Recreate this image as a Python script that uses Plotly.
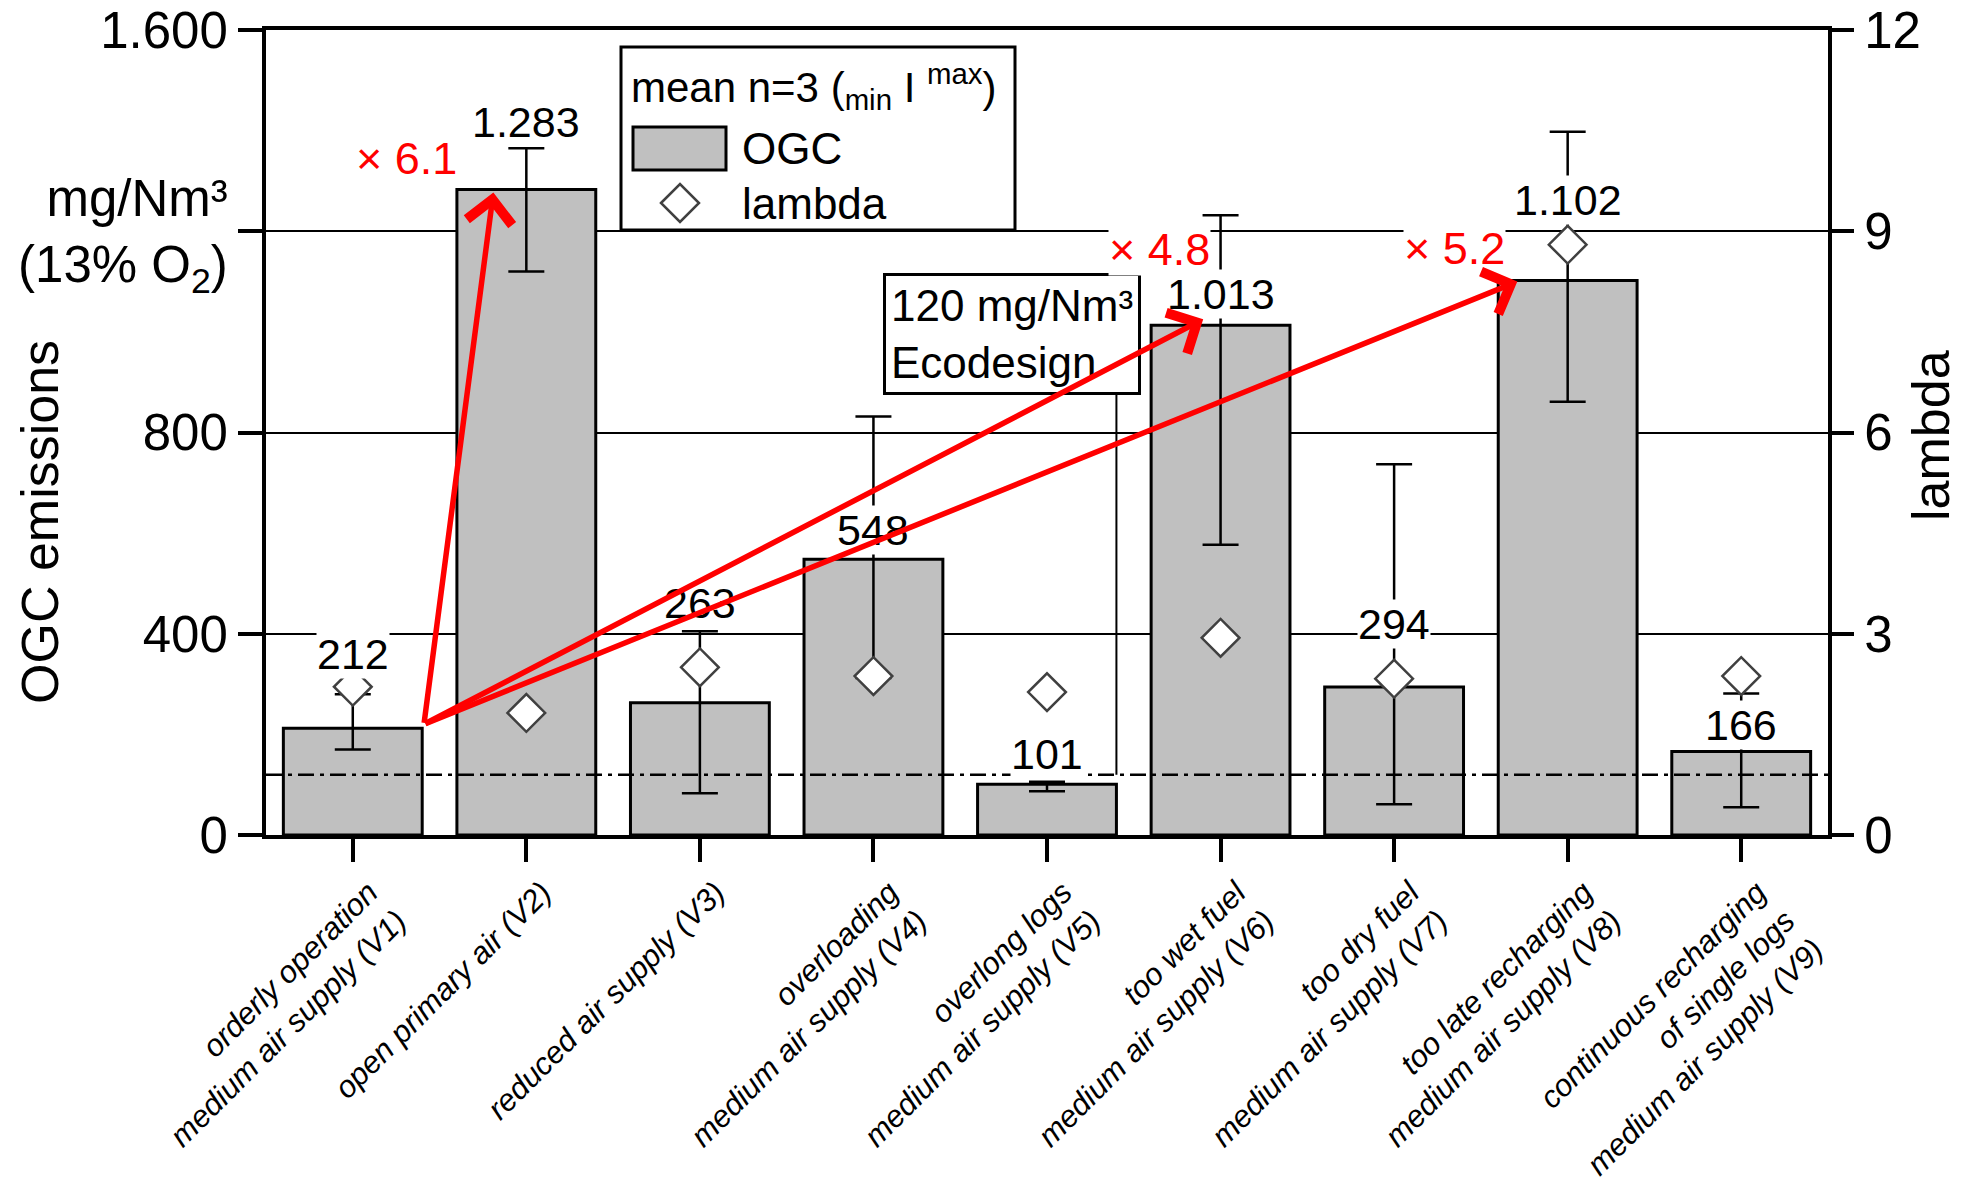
import plotly.graph_objects as go

# ---------------- data ----------------
categories = ["V1", "V2", "V3", "V4", "V5", "V6", "V7", "V8", "V9"]
tick_labels = [
    "orderly operation<br>medium air supply (V1)",
    "open primary air (V2)",
    "reduced air supply (V3)",
    "overloading<br>medium air supply (V4)",
    "overlong logs<br>medium air supply (V5)",
    "too wet fuel<br>medium air supply (V6)",
    "too dry fuel<br>medium air supply (V7)",
    "too late recharging<br>medium air supply (V8)",
    "continuous recharging<br>of single logs<br>medium air supply (V9)",
]
ogc_mean = [212, 1283, 263, 548, 101, 1013, 294, 1102, 166]
ogc_max = [280, 1365, 405, 832, 106, 1232, 737, 1398, 281]
ogc_min = [170, 1120, 83, 312, 87, 577, 61, 861, 55]
lambda_mean = [2.21, 1.82, 2.50, 2.37, 2.13, 2.94, 2.33, 8.80, 2.37]
ecodesign_limit = 120
factor_targets = [1, 5, 7]
y_tick_vals = [0, 400, 800, 1200, 1600]
y_tick_text = ["0", "400", "800", "mg/Nm³<br>(13% O<sub>2</sub>)", "1.600"]
y2_tick_vals = [0, 3, 6, 9, 12]

# ---------------- styling / layout helpers ----------------
FONT = "Liberation Sans, Arial, sans-serif"
PLOT_L, PLOT_R, PLOT_T, PLOT_B = 266, 1828, 30, 835   # plot area in page pixels
W, H = 1975, 1182
ML, MT = PLOT_L, PLOT_T
PW, PH = PLOT_R - PLOT_L, PLOT_B - PLOT_T
MR, MB = W - ML - PW, H - MT - PH


def px(x):
    return (x - PLOT_L) / PW


def py(y):
    return (PLOT_B - y) / PH


def de(v):
    return f"{v:,}".replace(",", ".")


xs = list(range(len(categories)))
err_plus = [mx - m for mx, m in zip(ogc_max, ogc_mean)]
err_minus = [m - mn for mn, m in zip(ogc_min, ogc_mean)]

fig = go.Figure()
fig.add_trace(go.Bar(
    x=xs, y=ogc_mean, width=0.8, name="OGC",
    marker=dict(color="#c0c0c0", line=dict(color="black", width=3)),
    error_y=dict(type="data", array=err_plus, arrayminus=err_minus,
                 color="black", thickness=2.5, width=18),
    showlegend=False,
))
fig.add_trace(go.Scatter(
    x=xs, y=lambda_mean, yaxis="y2", mode="markers", name="lambda",
    marker=dict(symbol="diamond", size=29, color="white",
                line=dict(color="#404040", width=2.5)),
    showlegend=False,
))

annotations = []
shapes = []

# value labels
LABEL_Y = [360, 1417, 462, 606, 161, 1075, 419, 1262, 218]
for i, v in enumerate(ogc_mean):
    annotations.append(dict(
        x=xs[i], y=LABEL_Y[i], xref="x", yref="y", text=de(v), showarrow=False,
        xanchor="center", yanchor="middle",
        font=dict(family=FONT, size=43, color="black"), bgcolor="white", borderpad=0,
    ))

# Ecodesign limit line
shapes.append(dict(type="line", xref="paper", x0=0, x1=1, yref="y",
                   y0=ecodesign_limit, y1=ecodesign_limit, layer="above",
                   line=dict(color="black", width=2.5, dash="16px,6px,4px,6px")))
shapes.append(dict(type="line", xref="x", x0=4.4, x1=4.4, yref="y",
                   y0=ecodesign_limit, y1=900, layer="above",
                   line=dict(color="black", width=2)))
annotations.append(dict(
    x=3.80, y=995, xref="x", yref="y", xanchor="center", yanchor="middle",
    text=f"{ecodesign_limit} mg/Nm³<br>Ecodesign", align="left", showarrow=False,
    font=dict(family=FONT, size=44, color="black"), bgcolor="white",
    bordercolor="black", borderwidth=3, borderpad=5,
))

# factor arrows and labels
FACTOR_POS = [(0.31, 1344), (4.65, 1163), (6.35, 1165)]
TIP_OFF = [(-0.19, -6), (-0.10, 12), (-0.29, -2)]
tail_x, tail_y = xs[0] + 0.41, ogc_mean[0] + 8
for k, t in enumerate(factor_targets):
    fx, fy = FACTOR_POS[k]
    annotations.append(dict(
        x=fx, y=fy, xref="x", yref="y", xanchor="center", yanchor="middle",
        text=f"× {ogc_mean[t] / ogc_mean[0]:.1f}", showarrow=False,
        font=dict(family=FONT, size=45, color="#ff0000"), bgcolor="white", borderpad=0,
    ))
for k, t in enumerate(factor_targets):
    dx, dy = TIP_OFF[k]
    annotations.append(dict(
        x=xs[t] + dx, y=ogc_mean[t] + dy, xref="x", yref="y",
        ax=tail_x, ay=tail_y, axref="x", ayref="y", text="",
        showarrow=True, arrowhead=4, arrowsize=1.6, arrowwidth=5.5,
        arrowcolor="#ff0000", standoff=0, startstandoff=0,
    ))

# manual legend
shapes.append(dict(type="rect", xref="paper", yref="paper",
                   x0=px(621), x1=px(1015), y0=py(230), y1=py(47),
                   fillcolor="white", line=dict(color="black", width=3), layer="above"))
shapes.append(dict(type="rect", xref="paper", yref="paper",
                   x0=px(633), x1=px(726), y0=py(170), y1=py(127),
                   fillcolor="#c0c0c0", line=dict(color="black", width=3), layer="above"))
cx, cy, hw, hh = px(680), py(203), 19 / PW, 19 / PH
shapes.append(dict(type="path", xref="paper", yref="paper",
                   path=f"M {cx - hw},{cy} L {cx},{cy + hh} L {cx + hw},{cy} L {cx},{cy - hh} Z",
                   fillcolor="white", line=dict(color="#404040", width=2.5), layer="above"))
annotations.append(dict(
    x=px(629), y=py(86), xref="paper", yref="paper", xanchor="left", yanchor="middle",
    text="mean n=3 (<sub>min</sub> I <sup>max</sup>)", showarrow=False,
    font=dict(family=FONT, size=42, color="black"),
))
annotations.append(dict(
    x=px(740), y=py(148), xref="paper", yref="paper", xanchor="left", yanchor="middle",
    text="OGC", showarrow=False, font=dict(family=FONT, size=44, color="black"),
))
annotations.append(dict(
    x=px(740), y=py(203), xref="paper", yref="paper", xanchor="left", yanchor="middle",
    text="lambda", showarrow=False, font=dict(family=FONT, size=44, color="black"),
))

# axis titles
annotations.append(dict(
    x=px(40), y=py(522), xref="paper", yref="paper", textangle=-90,
    xanchor="center", yanchor="middle",
    text="OGC emissions", showarrow=False, font=dict(family=FONT, size=52, color="black"),
))
annotations.append(dict(
    x=px(1931), y=py(436), xref="paper", yref="paper", textangle=-90,
    xanchor="center", yanchor="middle",
    text="lambda", showarrow=False, font=dict(family=FONT, size=52, color="black"),
))

fig.update_layout(
    width=W, height=H,
    margin=dict(l=ML, r=MR, t=MT, b=MB, autoexpand=False),
    paper_bgcolor="white", plot_bgcolor="white",
    font=dict(family=FONT, color="black"),
    showlegend=False, bargap=0.2,
    annotations=annotations, shapes=shapes,
    xaxis=dict(
        range=[-0.5, 8.5], tickvals=xs, ticktext=tick_labels, tickangle=-45,
        ticks="outside", ticklen=23, tickwidth=4, tickcolor="black",
        showline=True, linewidth=4, linecolor="black", mirror=True,
        showgrid=False, zeroline=False, ticklabelshift=16,
        tickfont=dict(family=FONT, size=31, color="black", style="italic"),
    ),
    yaxis=dict(
        range=[0, 1600], tickvals=y_tick_vals, ticktext=y_tick_text,
        ticks="outside", ticklen=24, tickwidth=4, tickcolor="black",
        showline=True, linewidth=4, linecolor="black",
        showgrid=True, gridcolor="black", gridwidth=1.5, zeroline=False,
        ticklabeloverflow="allow",
        tickfont=dict(family=FONT, size=51, color="black"),
    ),
    yaxis2=dict(
        range=[0, 12], tickvals=y2_tick_vals, overlaying="y", side="right",
        ticks="outside", ticklen=22, tickwidth=4, tickcolor="black",
        showline=True, linewidth=4, linecolor="black",
        showgrid=False, zeroline=False, ticklabeloverflow="allow",
        tickfont=dict(family=FONT, size=51, color="black"),
    ),
)

fig.write_html("out.html", config={"displayModeBar": False},
               post_script="document.body.style.margin='0';document.body.style.padding='0';")
